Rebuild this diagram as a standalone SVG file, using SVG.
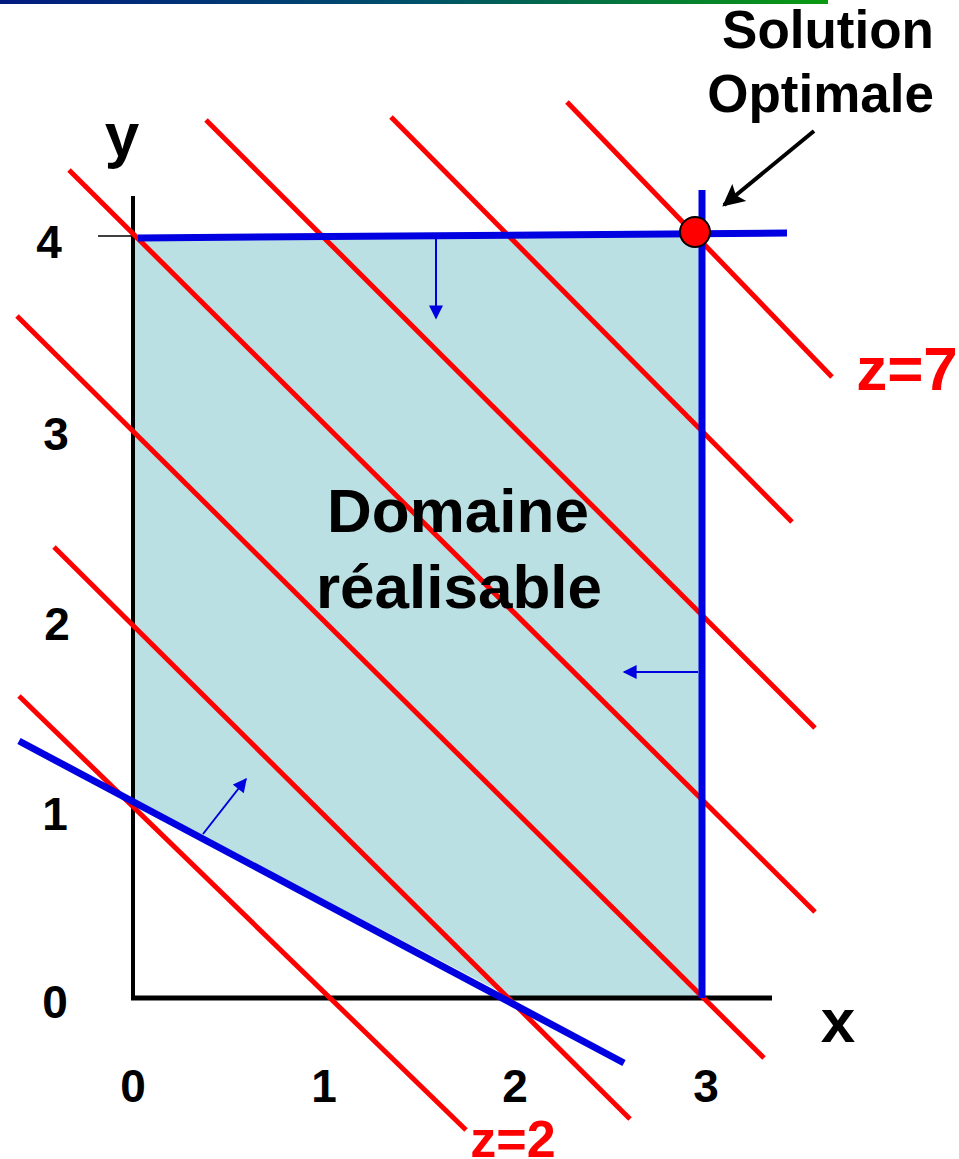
<svg xmlns="http://www.w3.org/2000/svg" width="959" height="1159" viewBox="0 0 959 1159">
<style>
text{font-family:"Liberation Sans",Arial,sans-serif;font-weight:bold;}
.lbl{font-size:46px;fill:#000;text-anchor:middle;}
.big{font-size:62px;fill:#000;}
.red{fill:#ff0000;}
.rl{stroke:#ff0000;stroke-width:5;fill:none;}
.bl{stroke:#0000e0;stroke-width:7;fill:none;}
.ba{stroke:#0000e0;stroke-width:2;fill:none;}
.ax{stroke:#000;fill:none;}
</style>
<defs>
<linearGradient id="topbar" x1="0" y1="0" x2="1" y2="0">
<stop offset="0" stop-color="#001a80"/>
<stop offset="0.5" stop-color="#00506a"/>
<stop offset="1" stop-color="#0a9a10"/>
</linearGradient>
<marker id="bh" viewBox="0 0 10 10" refX="9" refY="5" markerWidth="15" markerHeight="14" markerUnits="userSpaceOnUse" orient="auto">
<path d="M0,0 L10,5 L0,10 Z" fill="#0000e0"/>
</marker>
<marker id="kh" viewBox="0 0 10 10" refX="9" refY="5" markerWidth="24" markerHeight="22" markerUnits="userSpaceOnUse" orient="auto">
<path d="M0,0 L10,5 L0,10 L2,5 Z" fill="#000"/>
</marker>
</defs>
<rect x="0" y="0" width="828" height="4" fill="url(#topbar)"/>
<g id="domain">
<polygon points="135,238 701,233 701,997 510,997 135,800" fill="#bae0e3"/>
</g>
<g id="axes">
<line class="ax" x1="133" y1="196" x2="133" y2="1000" stroke-width="4"/>
<line class="ax" x1="131" y1="998" x2="772" y2="998" stroke-width="5"/>
<line class="ax" x1="98" y1="236" x2="133" y2="236" stroke-width="1.5"/>
</g>
<g id="connectors">
<line class="rl" x1="567" y1="102" x2="832" y2="377"/>
<line class="rl" x1="391" y1="117" x2="792" y2="522"/>
<line class="rl" x1="206" y1="120" x2="815" y2="728"/>
<line class="rl" x1="69" y1="170" x2="815" y2="912"/>
<line class="rl" x1="17" y1="316" x2="764" y2="1058"/>
<line class="rl" x1="54" y1="547" x2="630" y2="1119"/>
<line class="rl" x1="19" y1="696" x2="466" y2="1130"/>
<line class="bl" x1="138" y1="238" x2="787" y2="233"/>
<line class="bl" x1="702" y1="190" x2="702" y2="998"/>
<line class="bl" x1="19" y1="741" x2="624" y2="1063" stroke-width="8"/>
<line class="ba" x1="436" y1="238" x2="436" y2="318" marker-end="url(#bh)"/>
<line class="ba" x1="698" y1="672" x2="624" y2="672" marker-end="url(#bh)"/>
<line class="ba" x1="203" y1="834" x2="246" y2="779" marker-end="url(#bh)"/>
<line x1="814" y1="131" x2="724" y2="205" stroke="#000" stroke-width="4" marker-end="url(#kh)"/>
</g>
<g id="optimum">
<circle cx="695" cy="232" r="15" fill="#ff0000" stroke="#000" stroke-width="2"/>
</g>
<g id="labels">
<text x="934" y="48" font-size="53" text-anchor="end">Solution</text>
<text x="934" y="112" font-size="53" text-anchor="end">Optimale</text>
<text class="big" x="122" y="156" text-anchor="middle">y</text>
<text class="big" x="838" y="1042" text-anchor="middle">x</text>
<text class="big" x="458" y="532" text-anchor="middle">Domaine</text>
<text class="big" x="459" y="608" text-anchor="middle">réalisable</text>
<text class="big red" x="907" y="390" font-size="64" text-anchor="middle">z=7</text>
<text class="red" x="513" y="1157" font-size="52" text-anchor="middle">z=2</text>
<text class="lbl" x="49" y="258">4</text>
<text class="lbl" x="56" y="450">3</text>
<text class="lbl" x="57" y="640">2</text>
<text class="lbl" x="55" y="830">1</text>
<text class="lbl" x="55" y="1018">0</text>
<text class="lbl" x="133" y="1102">0</text>
<text class="lbl" x="324" y="1102">1</text>
<text class="lbl" x="515" y="1102">2</text>
<text class="lbl" x="706" y="1102">3</text>
</g>
</svg>
